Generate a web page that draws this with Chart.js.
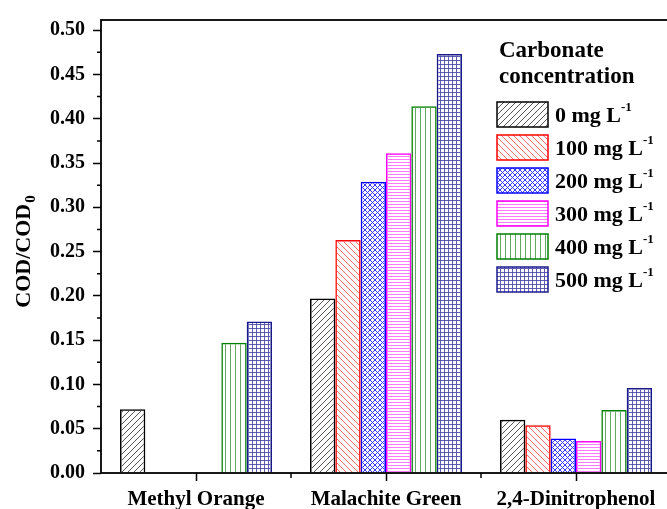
<!DOCTYPE html>
<html lang="en">
<head>
    <meta charset="UTF-8">
    <title>COD/COD0 vs carbonate</title>
    <script src="https://cdn.jsdelivr.net/npm/chart.js"></script>
    <style>
        html, body {
            margin: 0;
            padding: 0;
            overflow: hidden;
            background: #fff;
        }
        #codChart {
            position: absolute;
            left: 0;
            top: 0;
        }
    </style>
</head>
<body>
    <canvas id="codChart" width="680" height="509"></canvas>

    <script>
        // Data
        const categories = ['Methyl Orange', 'Malachite Green', '2,4-Dinitrophenol'];
        const concentrations = [0, 100, 200, 300, 400, 500];
        const conc0 = [0.072, 0.197, 0.060];
        const conc100 = [null, 0.263, 0.054];
        const conc200 = [null, 0.329, 0.039];
        const conc300 = [null, 0.361, 0.036];
        const conc400 = [0.147, 0.414, 0.071];
        const conc500 = [0.171, 0.473, 0.096];
        const yTicks = [0, 0.05, 0.10, 0.15, 0.20, 0.25, 0.30, 0.35, 0.40, 0.45, 0.50];
        const legendTitle = ['Carbonate', 'concentration'];
        const yTitle = 'COD/COD';
        const yTitleSub = '0';

        const serif = '"Liberation Serif", "Times New Roman", serif';
        const borderColors = ['#000000', '#ff0000', '#0000ff', '#ff00ff', '#008000', '#1a1a8c'];
        const hatchColors = ['#555555', '#f26a6a', '#3a3aff', '#ff78ff', '#63a863', '#5a5ab0'];
        const hatchKinds = ['fwd', 'back', 'cross', 'horiz', 'vert', 'grid'];

        // Build a hatch fill like the Origin patterns
        function makePattern(kind, color) {
            const c = document.createElement('canvas');
            const g = c.getContext('2d');
            if (kind === 'fwd' || kind === 'back' || kind === 'cross') {
                const s = kind === 'cross' ? 5 : 6;
                c.width = s; c.height = s;
                g.strokeStyle = color;
                g.lineWidth = 1;
                g.beginPath();
                if (kind !== 'back') {
                    g.moveTo(-1, s + 1); g.lineTo(s + 1, -1);
                }
                if (kind !== 'fwd') {
                    g.moveTo(-1, -1); g.lineTo(s + 1, s + 1);
                }
                g.stroke();
            } else if (kind === 'horiz') {
                c.width = 4; c.height = 3;
                g.fillStyle = color;
                g.fillRect(0, 0, 4, 1);
            } else if (kind === 'vert') {
                c.width = 5; c.height = 4;
                g.fillStyle = color;
                g.fillRect(0, 0, 1, 4);
            } else {
                c.width = 4; c.height = 4;
                g.fillStyle = color;
                g.fillRect(0, 0, 4, 1);
                g.fillRect(0, 0, 1, 4);
            }
            return g.createPattern(c, 'repeat');
        }

        const seriesValues = [conc0, conc100, conc200, conc300, conc400, conc500];
        const datasets = seriesValues.map((vals, i) => ({
            label: concentrations[i] + ' mg L\u207B\u00B9',
            data: vals,
            backgroundColor: makePattern(hatchKinds[i], hatchColors[i]),
            borderColor: borderColors[i],
            borderWidth: 1.5,
            borderSkipped: 'start',
            categoryPercentage: 0.8,
            barPercentage: 1.0
        }));

        // Frame box plus minor ticks
        const frameAndTicks = {
            id: 'frameAndTicks',
            afterDraw(chart) {
                const { ctx, chartArea: a, scales: { x, y } } = chart;
                ctx.save();
                ctx.strokeStyle = '#000';
                ctx.lineWidth = 1.8;
                ctx.strokeRect(a.left, a.top, a.right - a.left, a.bottom - a.top);
                ctx.lineWidth = 1.5;
                ctx.beginPath();
                for (let i = 0; i < yTicks.length - 1; i++) {
                    const py = y.getPixelForValue((yTicks[i] + yTicks[i + 1]) / 2);
                    ctx.moveTo(a.left - 4, py);
                    ctx.lineTo(a.left, py);
                }
                for (let i = 0; i < categories.length - 1; i++) {
                    const px = (x.getPixelForValue(i) + x.getPixelForValue(i + 1)) / 2;
                    ctx.moveTo(px, a.bottom);
                    ctx.lineTo(px, a.bottom + 5);
                }
                ctx.stroke();
                ctx.restore();
            }
        };

        // Y title with subscript
        const yTitlePlugin = {
            id: 'yTitlePlugin',
            afterDraw(chart) {
                const { ctx, chartArea: a } = chart;
                ctx.save();
                const mainFont = 'bold 22px ' + serif;
                const subFont = 'bold 15px ' + serif;
                ctx.font = mainFont;
                const w1 = ctx.measureText(yTitle).width;
                ctx.font = subFont;
                const w2 = ctx.measureText(yTitleSub).width;
                const total = w1 + w2 + 1;
                const cy = (a.top + a.bottom) / 2 + 5;
                ctx.translate(30, cy);
                ctx.rotate(-Math.PI / 2);
                ctx.fillStyle = '#000';
                ctx.textBaseline = 'alphabetic';
                ctx.textAlign = 'left';
                ctx.font = mainFont;
                ctx.fillText(yTitle, -total / 2, 0);
                ctx.font = subFont;
                ctx.fillText(yTitleSub, -total / 2 + w1 + 1, 5);
                ctx.restore();
            }
        };

        // Legend drawn inside the plot with superscripts
        const legendPlugin = {
            id: 'legendPlugin',
            afterDraw(chart) {
                const { ctx } = chart;
                ctx.save();
                ctx.fillStyle = '#000';
                ctx.textAlign = 'left';
                ctx.textBaseline = 'alphabetic';
                ctx.font = 'bold 23px ' + serif;
                ctx.fillText(legendTitle[0], 499, 57);
                ctx.fillText(legendTitle[1], 499, 83);
                chart.data.datasets.forEach((ds, i) => {
                    const top = 102 + i * 33;
                    const left = 497;
                    ctx.fillStyle = ds.backgroundColor;
                    ctx.fillRect(left, top, 51, 25);
                    ctx.strokeStyle = ds.borderColor;
                    ctx.lineWidth = 1.5;
                    ctx.strokeRect(left, top, 51, 25);
                    ctx.fillStyle = '#000';
                    ctx.font = 'bold 22px ' + serif;
                    const txt = concentrations[i] + ' mg L';
                    ctx.fillText(txt, 555, top + 20);
                    const w = ctx.measureText(txt).width;
                    ctx.font = 'bold 13px ' + serif;
                    ctx.fillText('-1', 555 + w, top + 9);
                });
                ctx.restore();
            }
        };

        const chart = new Chart(document.getElementById('codChart').getContext('2d'), {
            type: 'bar',
            data: { labels: categories, datasets: datasets },
            plugins: [frameAndTicks, yTitlePlugin, legendPlugin],
            options: {
                responsive: false,
                devicePixelRatio: 1,
                animation: false,
                layout: { padding: { left: 0, top: 14, right: 9, bottom: 0 } },
                plugins: {
                    legend: { display: false },
                    tooltip: { enabled: false }
                },
                scales: {
                    x: {
                        type: 'category',
                        offset: true,
                        border: { display: false },
                        grid: {
                            offset: false,
                            drawOnChartArea: false,
                            drawTicks: true,
                            tickLength: 8,
                            tickColor: '#000',
                            tickWidth: 1.5
                        },
                        ticks: {
                            color: '#000',
                            padding: 6,
                            maxRotation: 0,
                            font: { family: serif, size: 21, weight: 'bold' }
                        },
                        afterFit(scale) { scale.height = 36; }
                    },
                    y: {
                        min: 0,
                        max: 0.5115,
                        border: { display: false },
                        grid: {
                            drawOnChartArea: false,
                            drawTicks: true,
                            tickLength: 8,
                            tickColor: '#000',
                            tickWidth: 1.5
                        },
                        ticks: {
                            color: '#000',
                            padding: 8,
                            stepSize: 0.05,
                            font: { family: serif, size: 20, weight: 'bold' },
                            callback: (v) => Number(v).toFixed(2)
                        },
                        afterBuildTicks(scale) {
                            scale.ticks = yTicks.map(v => ({ value: v }));
                        },
                        afterFit(scale) { scale.width = 101; }
                    }
                }
            }
        });
    </script>
</body>
</html>
